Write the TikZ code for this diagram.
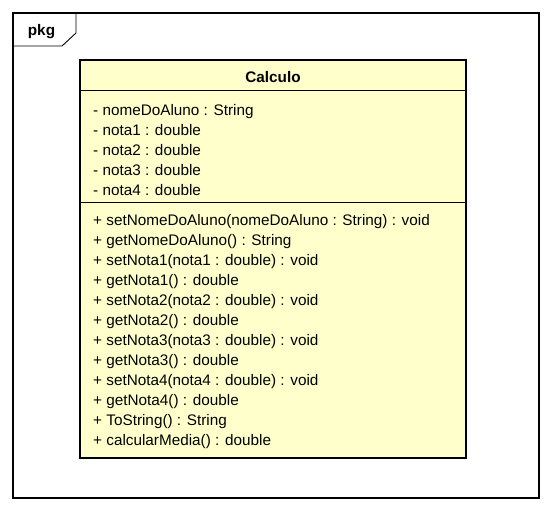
\documentclass[tikz,border=0pt]{standalone}
\usepackage{fontspec}
\setmainfont{Liberation Sans}
\definecolor{classfill}{HTML}{FFFFCC}

\tikzset{
  member/.style={anchor=base west, inner sep=0pt, font=\fontsize{15.3}{18}\selectfont},
  title/.style={anchor=base, inner sep=0pt, font=\bfseries\fontsize{15.3}{18}\selectfont},
}

\begin{document}
\begin{tikzpicture}[x=1pt, y=-1pt]
          \useasboundingbox (0,0) rectangle (552,512);

          % package frame
          \draw[line width=1.3pt] (13,13) rectangle (539,498);
          \draw[line width=0.9pt] (13,46) -- (62,46) -- (76,33) -- (76,13);
          \node[title] at (41.5,35) (pkg) {pkg};

          % class box
          \draw[fill=classfill, line width=2.6pt] (80,60) rectangle (466,458);
          \draw[line width=0.9pt] (80,90) -- (466,90);
          \draw[line width=0.9pt] (80,202) -- (466,202);
          \node[title] at (273,82.5) (name) {Calculo};

          % attributes
          \node[member] at (93,115) (a1) {- nomeDoAluno : String};
          \node[member] at (93,135) (a2) {- nota1 : double};
          \node[member] at (93,155) (a3) {- nota2 : double};
          \node[member] at (93,175) (a4) {- nota3 : double};
          \node[member] at (93,195) (a5) {- nota4 : double};

          % operations
          \foreach \op [count=\i] in {
            {+ setNomeDoAluno(nomeDoAluno : String) : void},
            {+ getNomeDoAluno() : String},
            {+ setNota1(nota1 : double) : void},
            {+ getNota1() : double},
            {+ setNota2(nota2 : double) : void},
            {+ getNota2() : double},
            {+ setNota3(nota3 : double) : void},
            {+ getNota3() : double},
            {+ setNota4(nota4 : double) : void},
            {+ getNota4() : double},
            {+ ToString() : String},
            {+ calcularMedia() : double}}
          \node[member] at (93,{205.5+20*\i}) (m\i) {\op};
        \end{tikzpicture}
\end{document}
